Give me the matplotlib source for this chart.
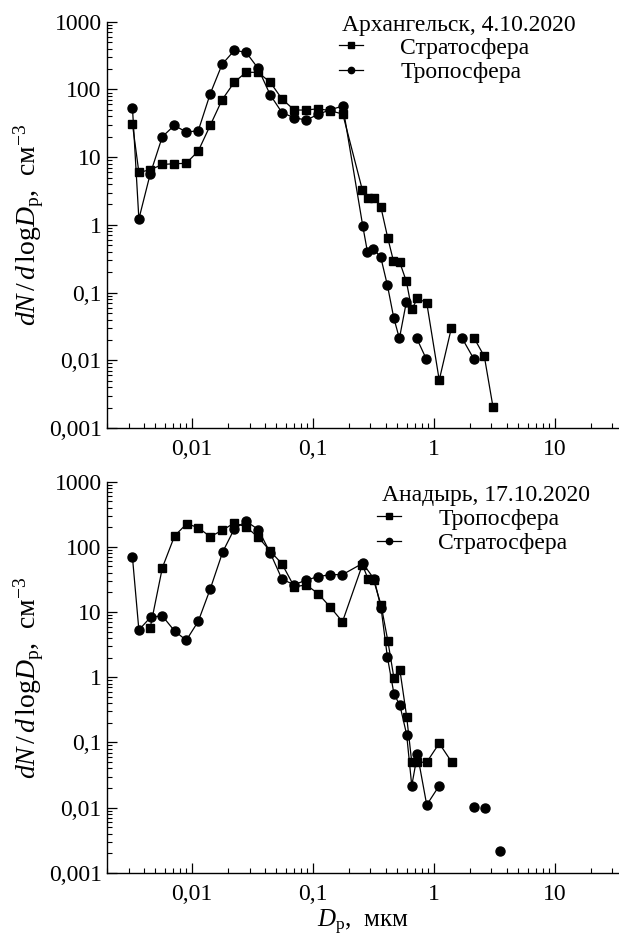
import numpy as np
import matplotlib.pyplot as plt
from matplotlib.ticker import LogLocator, FixedLocator, FixedFormatter, NullFormatter

plt.rcParams['font.family'] = ['Liberation Serif', 'DejaVu Serif']
plt.rcParams['mathtext.fontset'] = 'custom'
plt.rcParams['mathtext.rm'] = 'Liberation Serif'
plt.rcParams['mathtext.it'] = 'Liberation Serif:italic'

nan = np.nan

# Top panel: Arkhangelsk, 4.10.2020
top_title = 'Архангельск, 4.10.2020'
top_strat_x = [0.00323, 0.00365, 0.00452, 0.00571, 0.00718, 0.00897, 0.0113, 0.0142, 0.0178,
               0.0225, 0.0281, 0.0351, 0.0444, 0.0557, 0.0704, 0.0885, 0.1106, 0.139, 0.177,
               0.257, 0.285, 0.319, 0.365, 0.417, 0.464, 0.524, 0.594, 0.658, 0.733, 0.875,
               1.11, 1.40, 1.80, 2.15, 2.62, 3.09]
top_strat_y = [30.8, 5.96, 6.5, 7.8, 8.0, 8.1, 12.3, 29.5, 70.4,
               128.6, 179, 179, 128.6, 72, 49.6, 49.6, 51.9, 48.5, 43.3,
               3.27, 2.46, 2.51, 1.85, 0.638, 0.295, 0.279, 0.146, 0.0565, 0.082, 0.0706,
               0.0051, 0.0302, nan, 0.0215, 0.0114, 0.00204]
top_trop_x = [0.00323, 0.00365, 0.00452, 0.0057, 0.00718, 0.00897, 0.0113, 0.0142, 0.0178,
              0.0225, 0.0281, 0.0353, 0.0444, 0.0557, 0.0704, 0.0885, 0.1106, 0.139, 0.177,
              0.259, 0.283, 0.317, 0.365, 0.414, 0.467, 0.520, 0.594, 0.66, 0.724, 0.869,
              1.3, 1.72, 2.15]
top_trop_y = [53.7, 1.22, 5.57, 20, 29.5, 23.5, 24.5, 86.4, 235,
              378, 353, 205, 83.6, 45.3, 38.2, 35.3, 42.9, 50, 56.9,
              0.96, 0.40, 0.444, 0.331, 0.128, 0.0425, 0.021, 0.073, nan, 0.021, 0.0104,
              nan, 0.021, 0.0104]

# Bottom panel: Anadyr, 17.10.2020
bot_title = 'Анадырь, 17.10.2020'
bot_trop_x = [0.00452, 0.00571, 0.0072, 0.00909, 0.0113, 0.0142, 0.0179, 0.0225, 0.0281,
              0.0355, 0.0444, 0.0557, 0.0702, 0.0885, 0.1106, 0.139, 0.176,
              0.257, 0.287, 0.318, 0.367, 0.417, 0.469, 0.525, 0.597, 0.658, 0.733, 0.875,
              1.11, 1.41]
bot_trop_y = [5.64, 48, 147, 227, 197, 143, 180, 233, 202,
              140, 86.5, 54.7, 24.5, 26, 19.2, 12, 7.1,
              53, 32, 31, 12.8, 3.64, 0.966, 1.29, 0.249, 0.0497, 0.0497, 0.0497,
              0.097, 0.0497]
bot_strat_x = [0.00323, 0.00365, 0.00458, 0.00571, 0.0072, 0.0090, 0.0113, 0.0142, 0.018,
               0.0225, 0.0281, 0.0355, 0.0444, 0.0557, 0.0702, 0.0885, 0.1106, 0.139, 0.176,
               0.259, 0.322, 0.367, 0.414, 0.469, 0.525, 0.597, 0.658, 0.733, 0.875, 1.11,
               1.6, 2.15, 2.4, 2.65, 3.1, 3.56]
bot_strat_y = [69.3, 5.31, 8.4, 8.7, 5.13, 3.69, 7.2, 22.6, 83.5,
               190, 247, 184, 81.5, 31.8, 26.3, 31, 34.9, 37.5, 37.5,
               56, 31.9, 11.4, 2.03, 0.555, 0.372, 0.132, 0.0217, 0.066, 0.011, 0.0217,
               nan, 0.0101, nan, 0.0097, nan, 0.00219]

y_ticks = [0.001, 0.01, 0.1, 1, 10, 100, 1000]
y_tick_labels = ['0,001', '0,01', '0,1', '1', '10', '100', '1000']
x_ticks = [0.01, 0.1, 1, 10]
x_tick_labels = ['0,01', '0,1', '1', '10']

W, H = 619, 936
fig = plt.figure(figsize=(W / 100, H / 100), dpi=100)
ax1 = fig.add_axes([0.1733, 0.5427, 0.8267, 0.4341])
ax2 = fig.add_axes([0.1733, 0.0675, 0.8267, 0.4179])

line_kw = dict(color='black', linewidth=0.9)
leg_kw = dict(loc='upper left', frameon=False, fontsize=17, handlelength=1.0,
              handletextpad=1.6, markerscale=0.7, labelspacing=0.12,
              borderpad=0, borderaxespad=0)


def style_axis(ax):
    ax.set_xscale('log')
    ax.set_yscale('log')
    ax.set_xlim(0.002, 34)
    ax.set_ylim(0.001, 1000)
    for side in ['top', 'right']:
        ax.spines[side].set_visible(False)
    for side in ['left', 'bottom']:
        ax.spines[side].set_linewidth(1.0)
    ax.xaxis.set_major_locator(FixedLocator(x_ticks))
    ax.xaxis.set_major_formatter(FixedFormatter(x_tick_labels))
    ax.yaxis.set_major_locator(FixedLocator(y_ticks))
    ax.yaxis.set_major_formatter(FixedFormatter(y_tick_labels))
    ax.xaxis.set_minor_locator(LogLocator(base=10, subs=np.arange(2, 10), numticks=20))
    ax.yaxis.set_minor_locator(LogLocator(base=10, subs=np.arange(2, 10), numticks=20))
    ax.xaxis.set_minor_formatter(NullFormatter())
    ax.yaxis.set_minor_formatter(NullFormatter())
    ax.tick_params(which='both', direction='in', top=False, right=False, labelsize=17)
    ax.tick_params(which='major', length=7, width=0.9)
    ax.tick_params(which='minor', length=3.8, width=0.8)
    ax.tick_params(axis='x', which='major', pad=8)
    ax.tick_params(axis='y', which='major', pad=4)
    ax.set_ylabel(r'$dN\,/\,d\,\mathrm{log}D_{\mathrm{р}}$,  см$^{-3}$', fontsize=20, labelpad=2)


# top panel
ax1.plot(top_strat_x, top_strat_y, marker='s', markersize=5.8, label='Стратосфера', **line_kw)
ax1.plot(top_trop_x, top_trop_y, marker='o', markersize=6.5, label='Тропосфера', **line_kw)
style_axis(ax1)
fig.text(342 / W, 1 - 25 / H, top_title, ha='left', va='center', fontsize=17)
ax1.legend(bbox_to_anchor=(339 / W, 1 - 37 / H), bbox_transform=fig.transFigure, **leg_kw)

# bottom panel
ax2.plot(bot_trop_x, bot_trop_y, marker='s', markersize=5.8, label='Тропосфера', **line_kw)
ax2.plot(bot_strat_x, bot_strat_y, marker='o', markersize=6.5, label='Стратосфера', **line_kw)
style_axis(ax2)
fig.text(590 / W, 1 - 495 / H, bot_title, ha='right', va='center', fontsize=17)
ax2.legend(bbox_to_anchor=(377 / W, 1 - 508 / H), bbox_transform=fig.transFigure, **leg_kw)
ax2.set_xlabel(r'$D_{\mathrm{р}}$,  мкм', fontsize=18, labelpad=2)

fig.savefig('out.png', dpi=100)
